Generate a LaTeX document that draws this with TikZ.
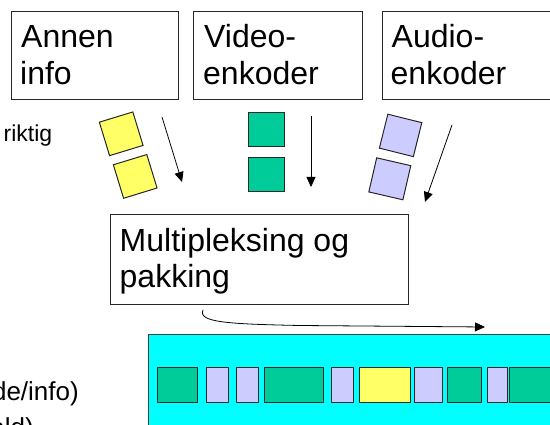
\documentclass[tikz,border=0pt]{standalone}
\usepackage{fontspec}
\setmainfont{Liberation Sans}
\usetikzlibrary{arrows.meta}
\definecolor{vidgreen}{HTML}{00CC99}
\definecolor{audlav}{HTML}{CCCCFF}
\definecolor{infoyel}{HTML}{FFFF66}
\definecolor{streamcyan}{HTML}{00FFFF}
\begin{document}
\begin{tikzpicture}[x=1pt,y=-1pt,
  box/.style={draw=black!85, line width=0.9pt, inner sep=0pt, anchor=north west},
  big/.style={font=\fontsize{32}{37}\selectfont, inner sep=0pt, anchor=base west},
  small/.style={font=\fontsize{23}{28}\selectfont, inner sep=0pt},
  unit/.style={draw=black!85, line width=1pt, inner sep=0pt, minimum width=35pt, minimum height=35pt},
  pkt/.style={draw=black!85, line width=1.2pt, inner sep=0pt, anchor=north west, minimum height=35pt},
  flow/.style={-{Triangle[length=10pt,width=9pt]}, line width=0.8pt},
]
\useasboundingbox (0,0) rectangle (550,425);
\clip (0,0) rectangle (550,425);

% source boxes
\node[box, minimum width=167pt, minimum height=88pt] (annen) at (11,11) {};
\node[box, minimum width=169pt, minimum height=88pt] (video) at (193,11) {};
\node[box, minimum width=200pt, minimum height=88pt] (audio) at (382,11) {};
\node[big] (annenA) at (21,48) {Annen};
\node[big] (annenB) at (20,85) {info};
\node[big] (videoA) at (204,48) {Video-};
\node[big] (videoB) at (203,85) {enkoder};
\node[big] (audioA) at (391.5,48) {Audio-};
\node[big] (audioB) at (390.5,85) {enkoder};

% side remarks
\node[small, anchor=base west] (rem1) at (3.5,142) {riktig};
\node[small, font=\fontsize{26}{30}\selectfont, anchor=base east] (rem2) at (79,401) {de/info)};
\node[small, font=\fontsize{26}{30}\selectfont, anchor=base east] (rem3) at (34,437) {ald)};

% data units leaving the sources
\node[unit, fill=infoyel, rotate=17] (y1) at (121.2,133.8) {};
\node[unit, fill=infoyel, rotate=17] (y2) at (135.2,176.4) {};
\node[unit, fill=vidgreen, minimum width=36pt, minimum height=34pt] (g1) at (266,130) {};
\node[unit, fill=vidgreen, minimum width=36pt, minimum height=34pt] (g2) at (266,175) {};
\node[unit, fill=audlav, rotate=-14] (l1) at (400.6,135.4) {};
\node[unit, fill=audlav, rotate=-13] (l2) at (389.8,178.8) {};

\coordinate (a1s) at (162,117); \coordinate (a1e) at (182,182);
\coordinate (a2s) at (311,116); \coordinate (a2e) at (311,187);
\coordinate (a3s) at (452,125); \coordinate (a3e) at (425,202);
\draw[flow] (a1s) -- (a1e);
\draw[flow] (a2s) -- (a2e);
\draw[flow] (a3s) -- (a3e);

% multiplexer
\node[box, minimum width=298pt, minimum height=90pt] (mux) at (110,214) {};
\node[big] (muxA) at (119.5,251.5) {Multipleksing og};
\node[big] (muxB) at (119.5,288) {pakking};

\coordinate (cs) at (203,310);
\coordinate (ce) at (485,327);
\draw[flow] (cs) .. controls (198,322) and (225,324) .. (300,325.5) -- (ce);

% multiplexed stream
\node[draw=black!75, line width=0.8pt, fill=streamcyan, anchor=north west,
      inner sep=0pt, minimum width=420pt, minimum height=120pt] (stream) at (148,334) {};
\foreach \xa/\xb/\col [count=\i] in {157/197/vidgreen, 206/228/audlav, 236/258/audlav,
    264/323/vidgreen, 331/353/audlav, 359/410/infoyel, 414/442/audlav,
    447/481/vidgreen, 487/507/audlav, 509/570/vidgreen}
  \node[pkt, fill=\col, minimum width={\xb-\xa}] (p\i) at (\xa,367) {};
\end{tikzpicture}
\end{document}
